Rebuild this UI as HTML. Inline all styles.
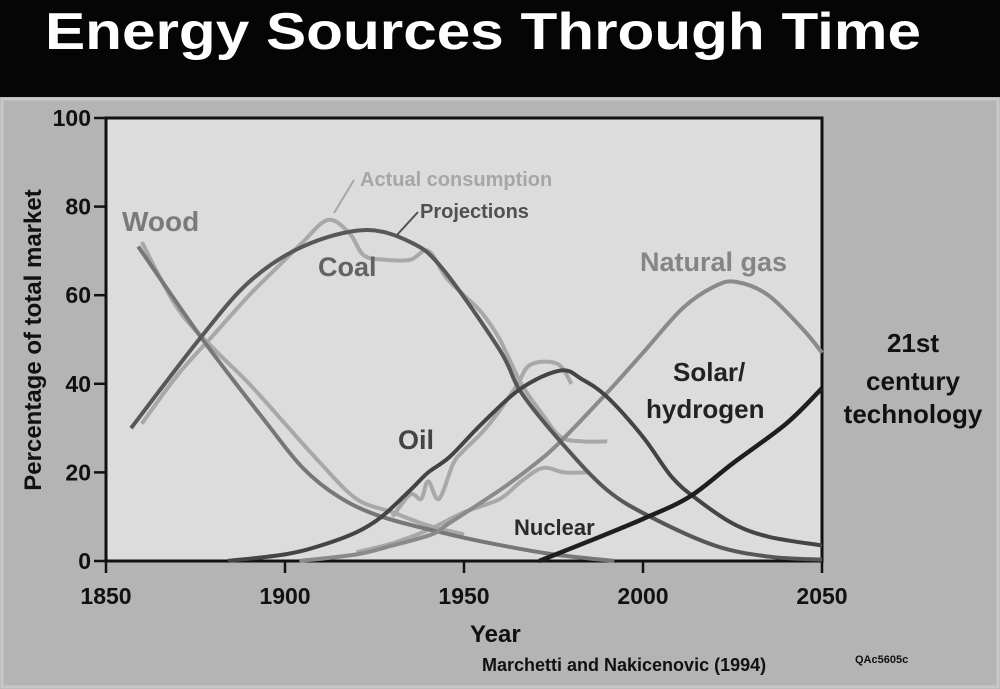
<!DOCTYPE html>
<html><head><meta charset="utf-8"><style>
html,body{margin:0;padding:0;background:#000}
svg{display:block;font-family:"Liberation Sans",sans-serif;font-weight:bold}
</style></head><body>
<svg id="chart" width="1000" height="689" viewBox="0 0 1000 689">
<rect x="0" y="0" width="1000" height="97" fill="#050505"/>
<text x="45" y="49" font-size="52" fill="#fff" textLength="876" lengthAdjust="spacingAndGlyphs">Energy Sources Through Time</text>
<rect x="0" y="97" width="1000" height="592" fill="#b4b4b4"/>
<rect x="2" y="99" width="996" height="588" fill="none" stroke="#c8c8c8" stroke-width="3"/>
<rect x="106" y="118" width="716" height="443" fill="#dcdcdc" stroke="#111" stroke-width="3"/>
<g id="axes"></g>
<g id="series"></g>
<g>
<text x="122" y="231" font-size="28" fill="#7a7a7a">Wood</text>
<text x="318" y="276" font-size="27" fill="#626262">Coal</text>
<text x="360" y="186" font-size="20" fill="#a6a6a6">Actual consumption</text>
<line x1="354" y1="180" x2="334" y2="213" stroke="#a6a6a6" stroke-width="2"/>
<text x="420" y="218" font-size="20" fill="#505050">Projections</text>
<line x1="418" y1="212" x2="396" y2="236" stroke="#505050" stroke-width="2"/>
<text x="640" y="271" font-size="27" fill="#858585">Natural gas</text>
<text x="673" y="381" font-size="26" fill="#222">Solar/</text>
<text x="646" y="418" font-size="26" fill="#222">hydrogen</text>
<text x="398" y="449" font-size="27" fill="#444">Oil</text>
<text x="514" y="535" font-size="22" fill="#2a2a2a">Nuclear</text>
<g font-size="26" fill="#111" text-anchor="middle">
<text x="913" y="352">21st</text><text x="913" y="390">century</text><text x="913" y="423">technology</text></g>
<text x="470" y="642" font-size="24" fill="#111">Year</text>
<text transform="translate(41,340) rotate(-90)" font-size="24" fill="#111" text-anchor="middle">Percentage of total market</text>
<text x="482" y="671" font-size="18" fill="#111">Marchetti and Nakicenovic (1994)</text>
<text x="855" y="663" font-size="11" fill="#111">QAc5605c</text>
</g>
</svg>
<script>
const xTicks=[1850,1900,1950,2000,2050];
const yTicks=[0,20,40,60,80,100];
const woodYears=[1859,1877,1895,1905,1915,1927,1946,1960,1975,1992];
const woodVals=[71,50,31,21,14.5,10,6,3.6,1.5,0];
const coalYears=[1857,1876,1890,1905,1922,1935,1944,1960,1966,1978,1990,2002,2020,2035,2050];
const coalVals=[30,50,63,71,74.7,72,66,47.6,38,26,16,10,3.5,1,0.3];
const oilYears=[1884,1900,1910,1920,1927,1935,1940,1946,1955,1966,1977,1983,1990,2000,2008,2015,2025,2035,2050];
const oilVals=[0,1.5,3.5,6.5,10,16,20,23.5,31,39,43,41,37,28,19,14,8.5,5.5,3.5];
const gasYears=[1904,1920,1930,1941,1946,1960,1970,1977,1990,2000,2011,2020,2026,2035,2045,2050];
const gasVals=[0,1.5,3.5,6,8.6,16,22,27,38,47,57,62,63,60,52,47];
const solarYears=[1971,1985,2000,2013,2025,2040,2050];
const solarVals=[0,4.5,9.5,14.5,22,31,39];
const actCoalYears=[1860,1870,1880,1890,1900,1905,1912,1918,1922,1928,1935,1940,1945,1950,1955,1960,1966,1972,1977,1983,1990];
const actCoalVals=[31,42,51,60,68,72,77,74,69,68,68,70,64,60,56,50,40,33,28,27,27];
const actWoodYears=[1860,1870,1880,1890,1900,1910,1920,1930,1940,1950];
const actWoodVals=[72,57,48,40,31,22,14,11,8,6];
const actOilYears=[1930,1935,1938,1940,1943,1947,1950,1955,1960,1965,1968,1973,1977,1980];
const actOilVals=[10,15,14,18,14,22,25,29,34,40,44,45,44,40];
const actGasYears=[1920,1930,1940,1950,1960,1966,1972,1978,1985];
const actGasVals=[2,4,7,11,14,18,21,20,20];
const X=y=>106+(y-1850)*716/200;
const Y=v=>561-v*4.43;
const NS='http://www.w3.org/2000/svg';
const axes=document.getElementById('axes');
const series=document.getElementById('series');
xTicks.forEach(t=>{
  const l=document.createElementNS(NS,'line');
  l.setAttribute('x1',X(t));l.setAttribute('x2',X(t));l.setAttribute('y1',561);l.setAttribute('y2',573);
  l.setAttribute('stroke','#111');l.setAttribute('stroke-width','2.5');
  
  
  axes.appendChild(l);
  const tx=document.createElementNS(NS,'text');
  tx.setAttribute('x',X(t));tx.setAttribute('y',604);tx.setAttribute('font-size','23');tx.setAttribute('text-anchor','middle');tx.setAttribute('fill','#111');
  tx.textContent=t;
  
  
  axes.appendChild(tx);
});
yTicks.forEach(t=>{
  const l=document.createElementNS(NS,'line');
  l.setAttribute('x1',94);l.setAttribute('x2',106);l.setAttribute('y1',Y(t));l.setAttribute('y2',Y(t));
  l.setAttribute('stroke','#111');l.setAttribute('stroke-width','2.5');
  
  
  axes.appendChild(l);
  const tx=document.createElementNS(NS,'text');
  tx.setAttribute('x',91);tx.setAttribute('y',Y(t)+8);tx.setAttribute('font-size','23');tx.setAttribute('text-anchor','end');tx.setAttribute('fill','#111');
  tx.textContent=t;
  
  
  axes.appendChild(tx);
});
function smooth(pts){
  let d='M'+pts[0][0]+','+pts[0][1];
  for(let i=0;i<pts.length-1;i++){
    const p0=pts[i-1]||pts[i],p1=pts[i],p2=pts[i+1],p3=pts[i+2]||p2;
    const c1=[p1[0]+(p2[0]-p0[0])/6,p1[1]+(p2[1]-p0[1])/6];
    const c2=[p2[0]-(p3[0]-p1[0])/6,p2[1]-(p3[1]-p1[1])/6];
    d+=' C'+c1+' '+c2+' '+p2;
  }
  return d;
}
function draw(years,vals,color,w,name){
  const pts=years.map((y,i)=>[X(y),Y(vals[i])]);
  const p=document.createElementNS(NS,'path');
  p.setAttribute('d',smooth(pts));
  p.setAttribute('fill','none');p.setAttribute('stroke',color);p.setAttribute('stroke-width',w);
  p.setAttribute('stroke-linejoin','round');
  
  
  series.appendChild(p);
}
draw(actWoodYears,actWoodVals,'#a8a8a8',4,'wood-actual-line');
draw(actCoalYears,actCoalVals,'#a8a8a8',4,'coal-actual-line');
draw(actOilYears,actOilVals,'#a8a8a8',4,'oil-actual-line');
draw(actGasYears,actGasVals,'#a8a8a8',4,'gas-actual-line');
draw(woodYears,woodVals,'#777',4,'wood-projection-line');
draw(gasYears,gasVals,'#8a8a8a',4,'gas-projection-line');
draw(coalYears,coalVals,'#575757',4,'coal-projection-line');
draw(oilYears,oilVals,'#444',4,'oil-projection-line');
draw(solarYears,solarVals,'#1e1e1e',4.5,'solar-projection-line');
</script>
</body></html>
